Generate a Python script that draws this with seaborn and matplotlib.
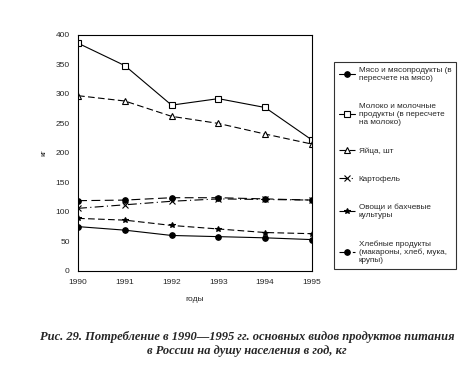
import matplotlib
matplotlib.use("Agg")
import matplotlib.pyplot as plt
import seaborn as sns
import pandas as pd

years = [1990, 1991, 1992, 1993, 1994, 1995]
meat = [75, 69, 60, 58, 56, 53]
milk = [386, 348, 281, 292, 277, 222]
eggs = [297, 288, 262, 250, 232, 215]
potato = [106, 112, 118, 122, 121, 120]
vegetables = [89, 86, 77, 71, 65, 63]
bread = [119, 120, 124, 124, 122, 120]

labels = [
    "Мясо и мясопродукты (в\nпересчете на мясо)",
    "Молоко и молочные\nпродукты (в пересчете\nна молоко)",
    "Яйца, шт",
    "Картофель",
    "Овощи и бахчевые\nкультуры",
    "Хлебные продукты\n(макароны, хлеб, мука,\nкрупы)",
]
yticks = [0, 50, 100, 150, 200, 250, 300, 350, 400]

sns.set_theme(style="white")
plt.rcParams['font.family'] = ['Liberation Sans', 'DejaVu Sans']

fig = plt.figure(figsize=(4.62, 3.68), dpi=100)
ax = fig.add_axes([0.169, 0.264, 0.506, 0.641])

series = [meat, milk, eggs, potato, vegetables, bread]
markers = ['o', 's', '^', 'x', '*', 'o']
styles = ['-', '-', (0, (6, 3)), (0, (8, 3, 1, 3)), (0, (6, 3)), (0, (8, 4))]
mfc = ['black', 'white', 'white', 'black', 'black', 'black']
for vals, lab, mk, ls, fc in zip(series, labels, markers, styles, mfc):
    df = pd.DataFrame({"year": years, "value": vals})
    sns.lineplot(data=df, x="year", y="value", ax=ax, color="black",
                 linewidth=0.8, linestyle=ls, marker=mk, markersize=4,
                 markerfacecolor=fc, markeredgecolor="black",
                 markeredgewidth=0.8, label=lab)

ax.set_xlim(1990, 1995)
ax.set_ylim(0, 400)
ax.set_xticks(years)
ax.set_xticklabels([str(y) for y in years], fontsize=6)
ax.set_yticks(yticks)
ax.set_yticklabels([str(t) for t in yticks], fontsize=6)
ax.tick_params(axis='both', length=3, width=0.6, direction='out', color='black', pad=3)
for sp in ax.spines.values():
    sp.set_color('black')
    sp.set_linewidth(0.8)
ax.set_xlabel("годы", fontsize=6, labelpad=7)
ax.set_ylabel("кг", fontsize=6, labelpad=6)
ax.grid(False)

leg = ax.legend(loc="upper left", bbox_to_anchor=(0.718, 0.838),
                bbox_transform=fig.transFigure, fontsize=5.9, frameon=True,
                fancybox=False, edgecolor="black", labelspacing=2.55,
                handlelength=1.9, borderpad=0.6, handletextpad=0.5,
                borderaxespad=0.3)
leg.get_frame().set_linewidth(0.8)

fig.text(0.535, 0.065, "Рис. 29. Потребление в 1990—1995 гг. основных видов продуктов питания\nв России на душу населения в год, кг",
         ha="center", va="center", fontsize=9, fontweight="bold",
         fontstyle="italic", family="Liberation Serif", linespacing=1.2)

fig.savefig("out.png", dpi=100, facecolor="white")
